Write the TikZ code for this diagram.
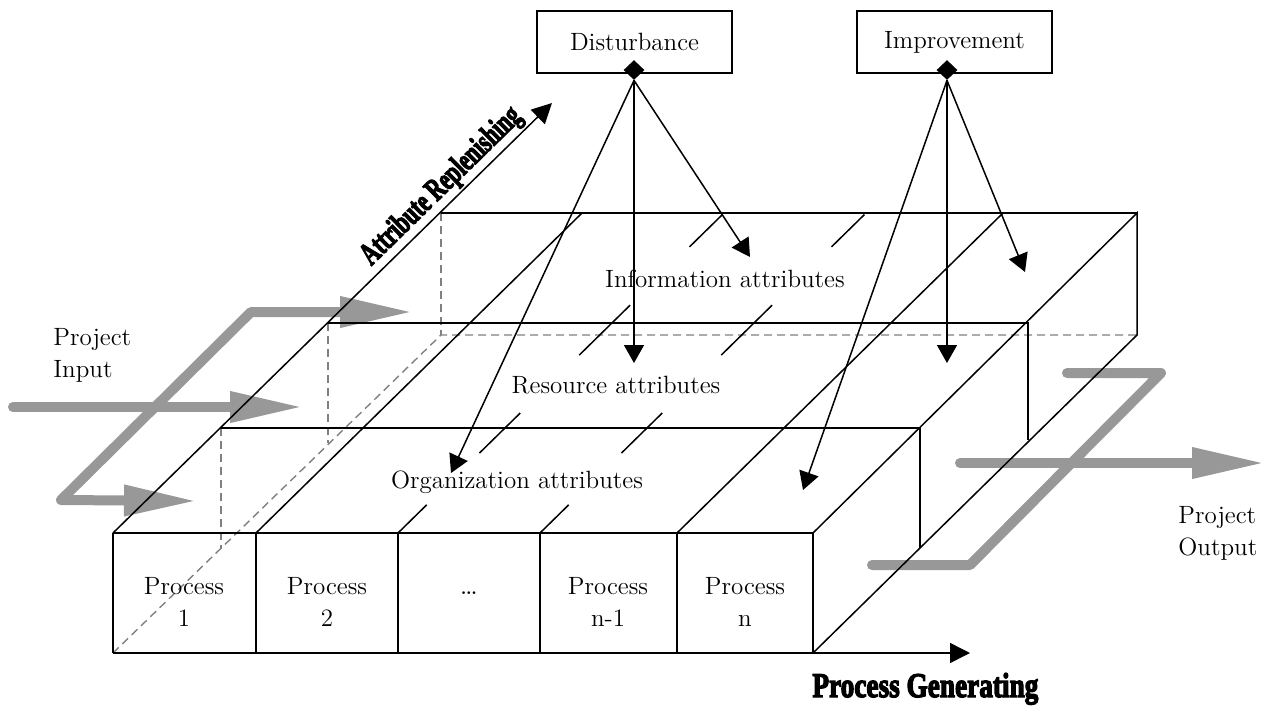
\documentclass[tikz,border=0pt]{standalone}
\usepackage{fontspec}
\newfontfamily\axisfont{Liberation Serif}[UprightFont={* Bold}, FakeBold=4]
\usetikzlibrary{arrows.meta,shapes.geometric,calc}

\definecolor{flowgray}{RGB}{152,152,152}
\definecolor{hiddengray}{RGB}{128,128,128}

\tikzset{
  edge/.style={line width=0.75pt, black},
  hidden/.style={line width=0.7pt, hiddengray, dash pattern=on 4pt off 2.5pt},
  flow/.style={line width=5pt, flowgray, line cap=round, line join=round},
  flowtip/.style={-{Triangle[length=36.5pt,width=14.5pt]}},
  pointer/.style={edge, -{Triangle[length=9pt,width=10pt]}},
  axis/.style={edge, -{Triangle[length=10pt,width=10pt]}},
  txt/.style={font=\fontsize{12.5}{16}\selectfont, inner sep=0pt},
  factorbox/.style={draw, line width=0.75pt, minimum width=97.5pt, minimum height=31pt,
    inner sep=0pt, font=\fontsize{12.5}{16}\selectfont},
  knob/.style={diamond, fill=black, minimum width=10.5pt, minimum height=10pt, inner sep=0pt},
  axislabel/.style={inner sep=0pt},
}

\begin{document}
\begin{tikzpicture}[x=0.5pt,y=-0.5pt]
\useasboundingbox (0,0) rectangle (1265,708);

% ---------- corners of the process block ----------
\coordinate (fbl) at (113,653);  \coordinate (fbr) at (813,653);
\coordinate (ftl) at (113,533);  \coordinate (ftr) at (813,533);
\coordinate (btl) at (441,213);  \coordinate (btr) at (1137,213);
\coordinate (bbl) at (441,335);  \coordinate (bbr) at (1137,335);
\coordinate (s1l) at (221,428);  \coordinate (s1r) at (920,428);
\coordinate (s2l) at (328,323);  \coordinate (s2r) at (1028,323);

% ---------- project flow (grey) ----------
\coordinate (inA) at (13,407);   \coordinate (inAtip) at (303,407);
\coordinate (inTip1) at (413,312); \coordinate (inC1) at (251,312);
\coordinate (inC2) at (61,500);  \coordinate (inTip2) at (197,501);
\draw[flow, flowtip] (inA) -- (inAtip);
\draw[flow, {Triangle[length=36.5pt,width=14.5pt]}-{Triangle[length=36.5pt,width=14.5pt]}]
  (inTip1) -- (inC1) -- (inC2) -- (inTip2);

\coordinate (outA) at (960,463); \coordinate (outAtip) at (1265,463);
\coordinate (outS) at (1067,373); \coordinate (outC1) at (1161,373);
\coordinate (outC2) at (970,565); \coordinate (outE) at (872,565);
\draw[flow, flowtip] (outA) -- (outAtip);
\draw[flow] (outS) -- (outC1) -- (outC2) -- (outE);

% ---------- hidden edges ----------
\draw[hidden] (fbl) -- (bbl) -- (bbr);
\draw[hidden] (btl) -- (bbl);
\draw[hidden] (s1l) -- (221,548);
\draw[hidden] (s2l) -- (328,443);

% ---------- visible edges ----------
\draw[edge] (ftl) -- (ftr) -- (fbr);
\draw[edge] (ftr) -- (btr) -- (bbr) -- (fbr);
\draw[edge] (btl) -- (btr);
\draw[edge] (s1l) -- (s1r) -- (920,548);
\draw[edge] (s2l) -- (s2r) -- (1028,440);
\draw[edge] (ftl) -- (fbl);
% process columns on the front face
\foreach \x in {256,398,540,677} \draw[edge] (\x,533) -- (\x,653);
% column lines running back across the top
\draw[edge] (256,533) -- (582,213);
\draw[edge] (677,533) -- (1003,213);
\foreach \xa/\xb in {398/724, 540/866}{
  \foreach \ta/\tb in {0/0.088, 0.25/0.375, 0.556/0.712, 0.894/0.995}{
    \draw[edge] ($(\xa,533)!\ta!(\xb,213)$) -- ($(\xa,533)!\tb!(\xb,213)$);
  }
}

% ---------- axes ----------
\coordinate (vtip) at (552,103);
\coordinate (htip) at (970,653);
\draw[axis] (fbl) -- (htip);
\draw[axis] (ftl) -- (vtip);

\node[axislabel, anchor=base, rotate=44.4] (vlab) at (447,192)
  {\resizebox{106pt}{11pt}{\axisfont Attribute Replenishing}};
\node[axislabel, anchor=base west] (hlab) at (812,697)
  {\resizebox{113pt}{12pt}{\axisfont Process Generating}};

% ---------- labels ----------
\node[txt, anchor=base] (info) at (725,287) {Information attributes};
\node[txt, anchor=base] (res) at (616,393) {Resource attributes};
\node[txt, anchor=base] (org) at (517,488) {Organization attributes};

\node[txt, align=center] (p1) at (184,602) {Process\\1};
\node[txt, align=center] (p2) at (327,602) {Process\\2};
\node[txt, anchor=base, font=\fontsize{14}{16}\selectfont] (pdots) at (469,594) {\dots};
\node[txt, align=center] (pn1) at (608,602) {Process\\n-1};
\node[txt, align=center] (pn) at (745,602) {Process\\n};

\node[txt, align=left, anchor=north west] (pin) at (53,328) {Project\\Input};
\node[txt, align=left, anchor=north west] (pout) at (1178,506) {Project\\Output};

% ---------- influencing factors ----------
\node[factorbox] (dist) at (634.5,42) {Disturbance};
\node[factorbox] (impr) at (954.5,42) {Improvement};
\node[knob] (dk) at (634,70) {};
\node[knob] (ik) at (947,70) {};

\coordinate (d1) at (634,363);
\coordinate (d2) at (750,257);
\coordinate (d3) at (451,473);
\coordinate (i1) at (947,363);
\coordinate (i2) at (1025,272);
\coordinate (i3) at (803,490);
\foreach \t in {d1,d2,d3} \draw[pointer] (dk.south) -- (\t);
\foreach \t in {i1,i2,i3} \draw[pointer] (ik.south) -- (\t);
\end{tikzpicture}
\end{document}
